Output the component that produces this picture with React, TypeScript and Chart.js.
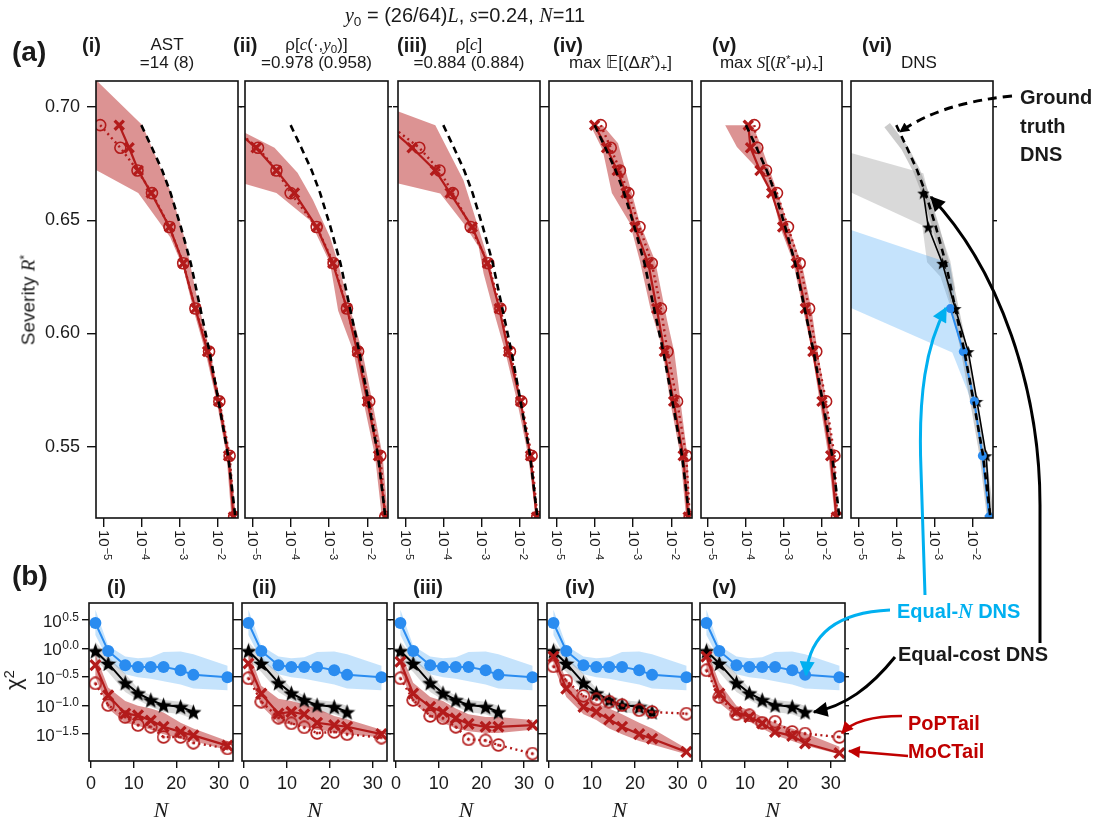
import React, { useEffect, useRef } from 'react';
import { Chart, registerables } from 'chart.js';

Chart.register(...registerables);

const W = 1100;
const H = 825;
const SANS = '"Liberation Sans", Arial, Helvetica, sans-serif';
const SERIF = '"Liberation Serif", "Times New Roman", serif';
const MATH = '"DejaVu Sans", "Liberation Sans", sans-serif';
Chart.defaults.font.family = SANS;

const RED = '#b31b1b';
const RED_BAND = 'rgba(185, 40, 40, 0.5)';
const BLUE = '#2a8cf0';
const BLUE_BAND = 'rgba(40, 150, 245, 0.27)';
const GRAY_BAND = 'rgba(120, 120, 120, 0.28)';
const INK = '#1a1a1a';

// ---------------- (a) severity R* vs exceedance probability (log10 p) ----------------
const SEVERITY = [0.692, 0.682, 0.672, 0.662, 0.647, 0.631, 0.611, 0.592, 0.570, 0.546, 0.519];
const TRUTH_LOGP = [-4.0, -3.72, -3.45, -3.23, -2.96, -2.70, -2.45, -2.21, -1.97, -1.72, -1.53];

const A1_MOC = [-4.58, -4.32, -4.08, -3.74, -3.26, -2.90, -2.58, -2.26, -1.97, -1.71, -1.58];
const A1_POP = [-5.08, -4.55, -4.10, -3.72, -3.26, -2.90, -2.58, -2.22, -1.95, -1.68, -1.56];
const A1_BAND_UP = [[-5.5, 0.717], [-3.97, 0.692], [-3.24, 0.663], [-2.84, 0.641], [-2.55, 0.617], [-2.2, 0.592], [-1.92, 0.570], [-1.66, 0.546], [-1.5, 0.516]];
const A1_BAND_LO = [[-1.62, 0.516], [-1.76, 0.546], [-2.02, 0.570], [-2.32, 0.592], [-2.64, 0.611], [-2.9, 0.629], [-3.24, 0.6425], [-4.08, 0.662], [-5.5, 0.675]];

const A2_MOC = [-5.6, -4.90, -4.37, -3.90, -3.32, -2.90, -2.53, -2.26, -2.00, -1.71, -1.53];
const A2_POP = [-5.6, -4.85, -4.37, -4.00, -3.32, -2.88, -2.53, -2.24, -1.95, -1.66, -1.53];
const A2_BAND_UP = [[-5.6, 0.692], [-5.18, 0.6885], [-4.42, 0.682], [-3.82, 0.671], [-3.42, 0.659], [-2.97, 0.6425], [-2.76, 0.631], [-2.45, 0.611], [-2.13, 0.592], [-1.87, 0.570], [-1.6, 0.546], [-1.45, 0.516]];
const A2_BAND_LO = [[-1.6, 0.516], [-1.8, 0.546], [-2.1, 0.570], [-2.37, 0.5925], [-2.76, 0.610], [-2.97, 0.631], [-3.5, 0.650], [-4.37, 0.662], [-5.18, 0.666], [-5.6, 0.668]];

const A3_MOC = [-5.5, -4.82, -4.21, -3.82, -3.24, -2.84, -2.53, -2.29, -1.97, -1.71, -1.55];
const A3_POP = [-5.4, -4.63, -4.10, -3.75, -3.28, -2.82, -2.50, -2.25, -1.95, -1.68, -1.53];
const A3_BAND_UP = [[-5.5, 0.700], [-5.18, 0.698], [-4.21, 0.692], [-3.47, 0.6677], [-3.11, 0.6485], [-2.76, 0.6293], [-2.5, 0.610], [-2.24, 0.5917], [-1.95, 0.570], [-1.68, 0.546], [-1.49, 0.516]];
const A3_BAND_LO = [[-1.55, 0.516], [-1.77, 0.546], [-2.06, 0.570], [-2.37, 0.5917], [-2.68, 0.610], [-2.94, 0.6264], [-3.07, 0.6382], [-3.46, 0.6485], [-4.08, 0.6618], [-5.18, 0.6662], [-5.5, 0.6675]];

const A4_MOC = [-4.00, -3.69, -3.41, -3.18, -2.95, -2.60, -2.38, -2.18, -1.94, -1.69, -1.56];
const A4_POP = [-3.84, -3.58, -3.34, -3.12, -2.83, -2.51, -2.27, -2.10, -1.85, -1.61, -1.52];
const A4_BAND_UP = [[-3.79, 0.692], [-3.39, 0.684], [-3.21, 0.673], [-3.03, 0.662], [-2.82, 0.6487], [-2.42, 0.632], [-2.11, 0.6058], [-1.92, 0.5916], [-1.76, 0.570], [-1.58, 0.546], [-1.5, 0.516]];
const A4_BAND_LO = [[-1.6, 0.516], [-1.76, 0.546], [-2.03, 0.570], [-2.24, 0.5938], [-2.55, 0.6115], [-2.82, 0.632], [-3.08, 0.6487], [-3.55, 0.662], [-3.79, 0.681], [-4.08, 0.691]];

const A5_MOC = [-3.94, -3.88, -3.63, -3.32, -3.03, -2.67, -2.43, -2.23, -1.99, -1.76, -1.61];
const A5_POP = [-3.78, -3.70, -3.47, -3.18, -2.89, -2.58, -2.33, -2.14, -1.88, -1.66, -1.59];
const A5_BAND_UP = [[-4.55, 0.692], [-3.82, 0.692], [-3.58, 0.682], [-3.37, 0.672], [-3.16, 0.662], [-2.87, 0.647], [-2.5, 0.629], [-2.26, 0.610], [-2.1, 0.5916], [-1.87, 0.570], [-1.66, 0.546], [-1.55, 0.516]];
const A5_BAND_LO = [[-1.63, 0.516], [-1.82, 0.546], [-2.05, 0.570], [-2.26, 0.5925], [-2.5, 0.6115], [-2.76, 0.632], [-3.1, 0.647], [-3.29, 0.660], [-3.71, 0.673], [-4.24, 0.6823]];

const A6_TRUTH_DNS = [-4.24, -3.78, -3.47, -3.24, -2.96, -2.70, -2.45, -2.21, -1.97, -1.72, -1.53];
const A6_COST = [-3.29, -3.16, -2.79, -2.45, -2.11, -1.88, -1.64, -1.53]; // severity levels 4..11
const A6_EQN = [-2.58, -2.24, -1.95, -1.74, -1.56]; // severity levels 7..11
const A6_COST_BAND_UP = [[-5.5, 0.6812], [-3.29, 0.6708], [-3.16, 0.662], [-2.92, 0.6487], [-2.58, 0.632], [-2.45, 0.62]];
const A6_COST_BAND_LO = [[-2.6, 0.613], [-2.84, 0.625], [-3.19, 0.6314], [-3.32, 0.6478], [-5.5, 0.6646]];
const A6_EQN_BAND_UP = [[-5.5, 0.6475], [-2.59, 0.631], [-2.45, 0.6146], [-2.27, 0.594], [-2.0, 0.5735], [-1.8, 0.5496], [-1.51, 0.516]];
const A6_EQN_BAND_LO = [[-1.59, 0.516], [-1.72, 0.554], [-2.14, 0.575], [-2.53, 0.5916], [-5.5, 0.6135]];

const TOP_X_TICKS = [1e-5, 1e-4, 1e-3, 1e-2];
const TOP_X_EXP = ['\u22125', '\u22124', '\u22123', '\u22122'];
const TOP_Y_TICKS = [0.55, 0.60, 0.65, 0.70];

// ---------------- (b) chi^2 (log10) vs N ----------------
const N_ALL = [1, 4, 8, 11, 14, 17, 21, 24, 32];
const N_COST = [1, 4, 8, 11, 14, 17, 21, 24];
const EQN_CHI = [0.45, -0.04, -0.29, -0.32, -0.32, -0.32, -0.38, -0.46, -0.50];
const EQN_UP = [0.68, 0.05, -0.14, -0.17, -0.15, -0.06, -0.05, -0.10, -0.30];
const EQN_LO = [0.24, -0.20, -0.45, -0.50, -0.53, -0.57, -0.63, -0.70, -0.73];
const COST_CHI = [-0.04, -0.26, -0.60, -0.78, -0.90, -0.99, -1.02, -1.11];
const COST_UP = [0.12, -0.14, -0.44, -0.70, -0.82, -0.90, -0.93, -1.00];
const COST_LO = [-0.20, -0.41, -0.76, -0.90, -1.02, -1.11, -1.15, -1.24];

const B1_MOC = [-0.29, -0.82, -1.14, -1.17, -1.26, -1.37, -1.46, -1.52, -1.70];
const B1_POP = [-0.61, -0.99, -1.20, -1.34, -1.37, -1.55, -1.55, -1.65, -1.75];
const B1_UP = [-0.10, -0.68, -0.92, -1.00, -1.05, -1.12, -1.30, -1.40, -1.62];
const B1_LO = [-0.50, -1.05, -1.30, -1.35, -1.42, -1.50, -1.58, -1.62, -1.78];

const B2_MOC = [-0.26, -0.79, -1.14, -1.11, -1.15, -1.30, -1.34, -1.37, -1.50];
const B2_POP = [-0.52, -0.93, -1.21, -1.31, -1.38, -1.48, -1.46, -1.50, -1.56];
const B2_UP = [-0.05, -0.65, -0.88, -0.92, -0.98, -1.05, -1.18, -1.24, -1.42];
const B2_LO = [-0.45, -1.00, -1.30, -1.33, -1.37, -1.42, -1.46, -1.50, -1.56];

const B3_MOC = [-0.23, -0.79, -1.02, -1.11, -1.22, -1.32, -1.37, -1.37, -1.34];
const B3_POP = [-0.52, -0.90, -1.18, -1.22, -1.37, -1.59, -1.61, -1.69, -1.84];
const B3_UP = [-0.05, -0.60, -0.85, -0.92, -1.05, -1.15, -1.20, -1.20, -1.25];
const B3_LO = [-0.40, -0.95, -1.20, -1.30, -1.40, -1.45, -1.48, -1.48, -1.42];

const B4_MOC = [-0.14, -0.70, -1.02, -1.11, -1.24, -1.37, -1.50, -1.58, -1.81];
const B4_POP = [-0.31, -0.56, -0.83, -0.89, -0.93, -0.99, -1.08, -1.11, -1.14];
const B4_UP = [0.00, -0.55, -0.85, -0.95, -1.05, -1.15, -1.30, -1.40, -1.75];
const B4_LO = [-0.30, -0.85, -1.15, -1.25, -1.40, -1.50, -1.62, -1.68, -1.85];

const B5_MOC = [-0.14, -0.79, -1.11, -1.20, -1.31, -1.46, -1.53, -1.66, -1.83];
const B5_POP = [-0.38, -0.85, -1.15, -1.17, -1.30, -1.28, -1.46, -1.49, -1.55];
const B5_UP = [0.00, -0.60, -1.00, -1.08, -1.20, -1.30, -1.40, -1.48, -1.72];
const B5_LO = [-0.35, -0.95, -1.20, -1.28, -1.40, -1.52, -1.62, -1.70, -1.85];

const BOT_X_TICKS = [0, 10, 20, 30];
const BOT_Y_EXP = [0.5, 0.0, -0.5, -1.0, -1.5];
const BOT_Y_LABELS = ['0.5', '0.0', '\u22120.5', '\u22121.0', '\u22121.5'];

// ---------------- layout ----------------
const TOP_LEFTS = [96, 245, 398, 549, 701, 851];
const TOP_RIGHTS = [238, 388, 540, 692, 842, 993];
const TOP_T = 81;
const TOP_B = 518;
const BOT_LEFTS = [89, 242, 394, 547, 700];
const BOT_RIGHTS = [233, 387, 538, 692, 845];
const BOT_T = 603;
const BOT_B = 761;

// ---------------- helpers ----------------
type Pt = { x: number; y: number };
const P = (lx: number, y: number): Pt => ({ x: Math.pow(10, lx), y });
const sevPts = (logp: number[], levels: number[] = SEVERITY): Pt[] => logp.map((lx, i) => P(lx, levels[i]));
const poly = (a: number[][], b: number[][]): Pt[] => [...a, ...b].map(([lx, r]) => P(lx, r));
const nPts = (ns: number[], logs: number[]): Pt[] => ns.map((n, i) => ({ x: n, y: Math.pow(10, logs[i]) }));
const nBand = (ns: number[], up: number[], lo: number[]): Pt[] => [...nPts(ns, up), ...nPts(ns, lo).reverse()];

function makeStar(size: number, color: string) {
  const c = document.createElement('canvas');
  c.width = size; c.height = size;
  const g = c.getContext('2d')!;
  const cx = size / 2, cy = size / 2 + size * 0.05, R = size / 2, r = R * 0.42;
  g.beginPath();
  for (let i = 0; i < 10; i++) {
    const rad = i % 2 === 0 ? R : r;
    const a = -Math.PI / 2 + (i * Math.PI) / 5;
    g.lineTo(cx + rad * Math.cos(a), cy + rad * Math.sin(a));
  }
  g.closePath();
  g.fillStyle = color;
  g.fill();
  return c;
}
function makeOdot(size: number, color: string, lw: number) {
  const c = document.createElement('canvas');
  c.width = size; c.height = size;
  const g = c.getContext('2d')!;
  g.beginPath();
  g.arc(size / 2, size / 2, size / 2 - lw / 2 - 0.3, 0, Math.PI * 2);
  g.strokeStyle = color; g.lineWidth = lw; g.stroke();
  g.beginPath();
  g.arc(size / 2, size / 2, 1.5, 0, Math.PI * 2);
  g.fillStyle = color; g.fill();
  return c;
}
const STAR_BIG = makeStar(17, '#000');
const STAR_SMALL = makeStar(13, '#000');
const ODOT = makeOdot(14, RED, 1.7);

const bandDS = (data: Pt[], color: string, order = 20) => ({
  data, showLine: true, fill: 'shape', backgroundColor: color, borderColor: 'rgba(0,0,0,0)',
  borderWidth: 0, pointRadius: 0, order, clip: 0,
});
const lineDS = (data: Pt[], o: any) => ({ data, showLine: true, fill: false, clip: 0, ...o });

const mocStyle = (order = 2, r = 7) => ({
  borderColor: RED, borderWidth: 2.2, pointStyle: 'crossRot', pointRadius: r, pointBorderWidth: 3.2,
  pointBorderColor: RED, pointBackgroundColor: RED, order,
});
const popTopStyle = (order = 1) => ({
  borderColor: RED, borderWidth: 2.4, borderDash: [2, 3.5], pointStyle: 'circle', pointRadius: 5.5,
  pointBorderWidth: 1.6, pointBorderColor: RED, pointBackgroundColor: 'rgba(0,0,0,0)', order,
});
const truthStyle = { borderColor: '#000', borderWidth: 2.6, borderDash: [7, 5], pointRadius: 0, order: 0 };

// ---------------- plugins ----------------
const framePlugin = {
  id: 'frame',
  afterDraw(chart: any) {
    const { left, top, right, bottom } = chart.chartArea;
    const ctx = chart.ctx;
    ctx.save();
    ctx.strokeStyle = '#111';
    ctx.lineWidth = 1.6;
    ctx.strokeRect(left, top, right - left, bottom - top);
    ctx.restore();
  },
};
const rotXLabels = {
  id: 'rotXLabels',
  afterDraw(chart: any) {
    const s = chart.scales.x;
    const ctx = chart.ctx;
    ctx.save();
    ctx.fillStyle = INK;
    TOP_X_TICKS.forEach((v, i) => {
      const px = s.getPixelForValue(v);
      ctx.save();
      ctx.translate(px, chart.chartArea.bottom + 12);
      ctx.rotate(Math.PI / 2);
      ctx.textAlign = 'left';
      ctx.textBaseline = 'middle';
      ctx.font = `15px ${SANS}`;
      ctx.fillText('10', 0, 0);
      const w = ctx.measureText('10').width;
      ctx.font = `11px ${SANS}`;
      ctx.fillText(TOP_X_EXP[i], w + 1, -4);
      ctx.restore();
    });
    ctx.restore();
  },
};
const expYLabels = {
  id: 'expYLabels',
  afterDraw(chart: any) {
    const s = chart.scales.y;
    const ctx = chart.ctx;
    const xr = chart.chartArea.left - 7 - 3;
    ctx.save();
    ctx.fillStyle = INK;
    ctx.textAlign = 'left';
    ctx.textBaseline = 'alphabetic';
    BOT_Y_EXP.forEach((e, i) => {
      const py = s.getPixelForValue(Math.pow(10, e));
      ctx.font = `12px ${SANS}`;
      const we = ctx.measureText(BOT_Y_LABELS[i]).width;
      ctx.font = `17px ${SANS}`;
      const wb = ctx.measureText('10').width;
      ctx.fillText('10', xr - we - wb - 0.5, py + 6.5);
      ctx.font = `12px ${SANS}`;
      ctx.fillText(BOT_Y_LABELS[i], xr - we, py + 0.5);
    });
    ctx.restore();
  },
};

const tickGrid = (len: number) => ({ drawOnChartArea: false, drawTicks: true, tickLength: len, color: '#111', lineWidth: 1.4 });

// ---------------- chart configs ----------------
function topConfig(idx: number, datasets: any[]) {
  const L = TOP_LEFTS[idx], R = TOP_RIGHTS[idx];
  const labels = idx === 0;
  const yW = labels ? 60 : 5;
  const xH = 45;
  const yMin = 0.5185, yMax = 0.7115;
  return {
    type: 'scatter',
    data: { datasets },
    options: {
      responsive: false, animation: false, events: [],
      layout: { padding: { left: L - yW, right: W - R - 4, top: TOP_T, bottom: H - TOP_B - xH } },
      plugins: { legend: { display: false }, tooltip: { enabled: false } },
      scales: {
        x: {
          type: 'logarithmic', min: Math.pow(10, -5.19), max: Math.pow(10, -1.46), position: 'bottom',
          afterBuildTicks: (s: any) => { s.ticks = TOP_X_TICKS.map((v) => ({ value: v })); },
          afterFit: (s: any) => { s.height = xH; },
          ticks: { display: false },
          grid: tickGrid(9), border: { display: false },
        },
        y: {
          type: 'linear', min: yMin, max: yMax, position: 'left',
          afterBuildTicks: (s: any) => { s.ticks = TOP_Y_TICKS.map((v) => ({ value: v })); },
          afterFit: (s: any) => { s.width = yW; },
          ticks: { display: labels, color: INK, padding: 7, font: { size: 18, family: SANS }, callback: (v: any) => Number(v).toFixed(2) },
          grid: tickGrid(labels ? 9 : 5), border: { display: false },
        },
        y2: {
          type: 'linear', min: yMin, max: yMax, position: 'right',
          afterBuildTicks: (s: any) => { s.ticks = TOP_Y_TICKS.map((v) => ({ value: v })); },
          afterFit: (s: any) => { s.width = 4; },
          ticks: { display: false },
          grid: tickGrid(4), border: { display: false },
        },
      },
    },
    plugins: [framePlugin, rotXLabels],
  };
}

function botConfig(idx: number, datasets: any[]) {
  const L = BOT_LEFTS[idx], R = BOT_RIGHTS[idx];
  const labels = idx === 0;
  const yW = labels ? 60 : 5;
  const xH = 40;
  const yMin = Math.pow(10, -1.97), yMax = Math.pow(10, 0.8);
  const yTicks = BOT_Y_EXP.map((e) => ({ value: Math.pow(10, e) }));
  return {
    type: 'scatter',
    data: { datasets },
    options: {
      responsive: false, animation: false, events: [],
      layout: { padding: { left: L - yW, right: W - R - 4, top: BOT_T, bottom: H - BOT_B - xH } },
      plugins: { legend: { display: false }, tooltip: { enabled: false } },
      scales: {
        x: {
          type: 'linear', min: -0.5, max: 33.3, position: 'bottom',
          afterBuildTicks: (s: any) => { s.ticks = BOT_X_TICKS.map((v) => ({ value: v })); },
          afterFit: (s: any) => { s.height = xH; },
          ticks: { color: INK, padding: 5, maxRotation: 0, autoSkip: false, font: { size: 18, family: SANS } },
          grid: tickGrid(7), border: { display: false },
        },
        y: {
          type: 'logarithmic', min: yMin, max: yMax, position: 'left',
          afterBuildTicks: (s: any) => { s.ticks = yTicks.map((t) => ({ ...t })); },
          afterFit: (s: any) => { s.width = yW; },
          ticks: { display: false },
          grid: tickGrid(labels ? 7 : 5), border: { display: false },
        },
        y2: {
          type: 'logarithmic', min: yMin, max: yMax, position: 'right',
          afterBuildTicks: (s: any) => { s.ticks = yTicks.map((t) => ({ ...t })); },
          afterFit: (s: any) => { s.width = 4; },
          ticks: { display: false },
          grid: tickGrid(4), border: { display: false },
        },
      },
    },
    plugins: labels ? [framePlugin, expYLabels] : [framePlugin],
  };
}

function topRedPanel(idx: number, moc: number[], pop: number[], up: number[][], lo: number[][]) {
  return () => topConfig(idx, [
    bandDS(poly(up, lo), RED_BAND, 20),
    lineDS(sevPts(TRUTH_LOGP), truthStyle),
    lineDS(sevPts(moc), mocStyle(2, 6.5)),
    lineDS(sevPts(pop), popTopStyle(1)),
  ]);
}

function topDnsPanel() {
  return topConfig(5, [
    bandDS(poly(A6_COST_BAND_UP, A6_COST_BAND_LO), GRAY_BAND, 21),
    bandDS(poly(A6_EQN_BAND_UP, A6_EQN_BAND_LO), BLUE_BAND, 20),
    lineDS(sevPts(A6_TRUTH_DNS), { borderColor: 'rgba(160,160,160,0.55)', borderWidth: 7, pointRadius: 0, order: 10 }),
    lineDS(sevPts(TRUTH_LOGP), truthStyle),
    lineDS(sevPts(A6_COST, SEVERITY.slice(3)), { borderColor: '#000', borderWidth: 1.6, pointStyle: STAR_SMALL, order: 3 }),
    lineDS(sevPts(A6_EQN, SEVERITY.slice(6)), { borderColor: BLUE, borderWidth: 2, pointStyle: 'circle', pointRadius: 4.5, pointBorderWidth: 0, pointBackgroundColor: BLUE, order: 2 }),
  ]);
}

function botPanel(idx: number, moc: number[], pop: number[], up: number[], lo: number[]) {
  return () => botConfig(idx, [
    bandDS(nBand(N_ALL, EQN_UP, EQN_LO), BLUE_BAND, 22),
    bandDS(nBand(N_COST, COST_UP, COST_LO), GRAY_BAND, 21),
    bandDS(nBand(N_ALL, up, lo), RED_BAND, 20),
    lineDS(nPts(N_ALL, EQN_CHI), { borderColor: BLUE, borderWidth: 2, pointStyle: 'circle', pointRadius: 6, pointBorderWidth: 0, pointBackgroundColor: BLUE, order: 3 }),
    lineDS(nPts(N_COST, COST_CHI), { borderColor: '#000', borderWidth: 2, pointStyle: STAR_BIG, order: 4 }),
    lineDS(nPts(N_ALL, moc), mocStyle(2, 7)),
    lineDS(nPts(N_ALL, pop), { borderColor: RED, borderWidth: 2.4, borderDash: [2, 3.5], pointStyle: ODOT, order: 1 }),
  ]);
}

const PANELS: Array<() => any> = [
  topRedPanel(0, A1_MOC, A1_POP, A1_BAND_UP, A1_BAND_LO),
  topRedPanel(1, A2_MOC, A2_POP, A2_BAND_UP, A2_BAND_LO),
  topRedPanel(2, A3_MOC, A3_POP, A3_BAND_UP, A3_BAND_LO),
  topRedPanel(3, A4_MOC, A4_POP, A4_BAND_UP, A4_BAND_LO),
  topRedPanel(4, A5_MOC, A5_POP, A5_BAND_UP, A5_BAND_LO),
  topDnsPanel,
  botPanel(0, B1_MOC, B1_POP, B1_UP, B1_LO),
  botPanel(1, B2_MOC, B2_POP, B2_UP, B2_LO),
  botPanel(2, B3_MOC, B3_POP, B3_UP, B3_LO),
  botPanel(3, B4_MOC, B4_POP, B4_UP, B4_LO),
  botPanel(4, B5_MOC, B5_POP, B5_UP, B5_LO),
];

function ChartCanvas({ make }: { make: () => any }) {
  const ref = useRef<HTMLCanvasElement | null>(null);
  useEffect(() => {
    const chart = new Chart(ref.current as HTMLCanvasElement, make());
    return () => chart.destroy();
  }, []);
  return <canvas ref={ref} width={W} height={H} style={{ position: 'absolute', left: 0, top: 0, width: W, height: H }} />;
}

// ---------------- text helpers ----------------
function Txt(props: any) {
  const { x, y, size = 17, bold = false, color = INK, align = 'center', family = SANS, rotate = 0, children } = props;
  const tx = align === 'center' ? '-50%' : align === 'right' ? '-100%' : '0%';
  return (
    <div
      style={{
        position: 'absolute', left: x, top: y, fontFamily: family, fontSize: size, fontWeight: bold ? 700 : 400,
        color, whiteSpace: 'nowrap', lineHeight: 1,
        transform: `translate(${tx},-50%)${rotate ? ` rotate(${rotate}deg)` : ''}`,
      }}
    >
      {children}
    </div>
  );
}
const I = ({ children }: any) => <span style={{ fontFamily: SERIF, fontStyle: 'italic' }}>{children}</span>;
const Sub = ({ children }: any) => <span style={{ fontSize: '0.68em', position: 'relative', top: '0.3em' }}>{children}</span>;
const Sup = ({ children }: any) => <span style={{ fontSize: '0.68em', position: 'relative', top: '-0.45em' }}>{children}</span>;

const TOP_CENTERS = TOP_LEFTS.map((l, i) => (l + TOP_RIGHTS[i]) / 2);
const BOT_CENTERS = BOT_LEFTS.map((l, i) => (l + BOT_RIGHTS[i]) / 2);
const TOP_TAGS = ['(i)', '(ii)', '(iii)', '(iv)', '(v)', '(vi)'];
const TOP_TAG_X = [82, 233, 397, 553, 712, 862];
const BOT_TAG_X = [107, 252, 413, 565, 712];

const CYAN = '#00b0f0';
const DRED = '#c00000';

function Overlay() {
  return (
    <>
      <Txt x={465} y={15} size={20}>
        <I>y</I><Sub>0</Sub> = (26/64)<I>L</I>, <I>s</I>=0.24, <I>N</I>=11
      </Txt>
      <Txt x={12} y={52} size={28} bold align="left">(a)</Txt>
      <Txt x={12} y={576} size={28} bold align="left">(b)</Txt>
      {TOP_TAGS.map((t, i) => (
        <Txt key={'tt' + i} x={TOP_TAG_X[i]} y={45} size={20} bold align="left">{t}</Txt>
      ))}
      {TOP_TAGS.slice(0, 5).map((t, i) => (
        <Txt key={'bt' + i} x={BOT_TAG_X[i]} y={587} size={20} bold align="left">{t}</Txt>
      ))}
      <Txt x={TOP_CENTERS[0]} y={44}>AST</Txt>
      <Txt x={TOP_CENTERS[0]} y={62}>=14 (8)</Txt>
      <Txt x={TOP_CENTERS[1]} y={44}>ρ[<I>c</I>(·,<I>y</I><Sub>0</Sub>)]</Txt>
      <Txt x={TOP_CENTERS[1]} y={62}>=0.978 (0.958)</Txt>
      <Txt x={TOP_CENTERS[2]} y={44}>ρ[<I>c</I>]</Txt>
      <Txt x={TOP_CENTERS[2]} y={62}>=0.884 (0.884)</Txt>
      <Txt x={TOP_CENTERS[3]} y={62}>max <span style={{ fontFamily: MATH }}>{'\u{1D53C}'}</span>[(Δ<I>R</I><Sup>*</Sup>)<Sub>+</Sub>]</Txt>
      <Txt x={TOP_CENTERS[4]} y={62}>max <I>S</I>[(<I>R</I><Sup>*</Sup>-μ)<Sub>+</Sub>]</Txt>
      <Txt x={TOP_CENTERS[5] - 3} y={62}>DNS</Txt>
      <Txt x={28} y={300} size={19} rotate={-90}>Severity <I>R</I><Sup>*</Sup></Txt>
      <Txt x={14} y={680} size={22} rotate={-90}>χ<Sup>2</Sup></Txt>
      {BOT_CENTERS.map((c, i) => (
        <Txt key={'n' + i} x={c} y={810} size={22}><I>N</I></Txt>
      ))}
      <Txt x={1020} y={97} size={20} bold align="left">Ground</Txt>
      <Txt x={1020} y={126} size={20} bold align="left">truth</Txt>
      <Txt x={1020} y={154} size={20} bold align="left">DNS</Txt>
      <Txt x={897} y={611} size={20} bold align="left" color={CYAN}>Equal-<I>N</I> DNS</Txt>
      <Txt x={898} y={654} size={20} bold align="left">Equal-cost DNS</Txt>
      <Txt x={908} y={723} size={20} bold align="left" color={DRED}>PoPTail</Txt>
      <Txt x={908} y={751} size={20} bold align="left" color={DRED}>MoCTail</Txt>
    </>
  );
}

function Arrows() {
  const head = (id: string, color: string, len: number, wid: number) => (
    <marker id={id} viewBox="0 0 10 10" refX="9" refY="5" markerUnits="userSpaceOnUse" markerWidth={len} markerHeight={wid} orient="auto">
      <path d="M0,0 L10,5 L0,10 z" fill={color} />
    </marker>
  );
  return (
    <svg width={W} height={H} style={{ position: 'absolute', left: 0, top: 0, pointerEvents: 'none' }}>
      <defs>
        {head('hBlack', '#000', 18, 15)}
        {head('hCyan', CYAN, 18, 15)}
        {head('hRed', DRED, 15, 12)}
        {head('hSmall', '#000', 11, 10)}
      </defs>
      <path d="M 1012 96 Q 940 103 900 132" fill="none" stroke="#000" strokeWidth={3} strokeDasharray="9 6" markerEnd="url(#hSmall)" />
      <path d="M 1040 643 L 1040 505 C 1040 390 1000 270 931 197" fill="none" stroke="#000" strokeWidth={3} markerEnd="url(#hBlack)" />
      <path d="M 925 595 L 921 470 C 918 395 926 345 946 308" fill="none" stroke={CYAN} strokeWidth={3} markerEnd="url(#hCyan)" />
      <path d="M 890 610 C 842 612 810 630 806 675" fill="none" stroke={CYAN} strokeWidth={3} markerEnd="url(#hCyan)" />
      <path d="M 895 657 C 870 688 845 706 814 712" fill="none" stroke="#000" strokeWidth={3} markerEnd="url(#hBlack)" />
      <path d="M 902 716 C 870 716 852 722 842 733" fill="none" stroke={DRED} strokeWidth={2.5} markerEnd="url(#hRed)" />
      <path d="M 908 756 L 849 751" fill="none" stroke={DRED} strokeWidth={2.5} markerEnd="url(#hRed)" />
    </svg>
  );
}

export default function App() {
  return (
    <div style={{ position: 'absolute', left: 0, top: 0, width: W, height: H, background: '#fff', overflow: 'hidden' }}>
      {PANELS.map((make, i) => (
        <ChartCanvas key={i} make={make} />
      ))}
      <Overlay />
      <Arrows />
    </div>
  );
}
